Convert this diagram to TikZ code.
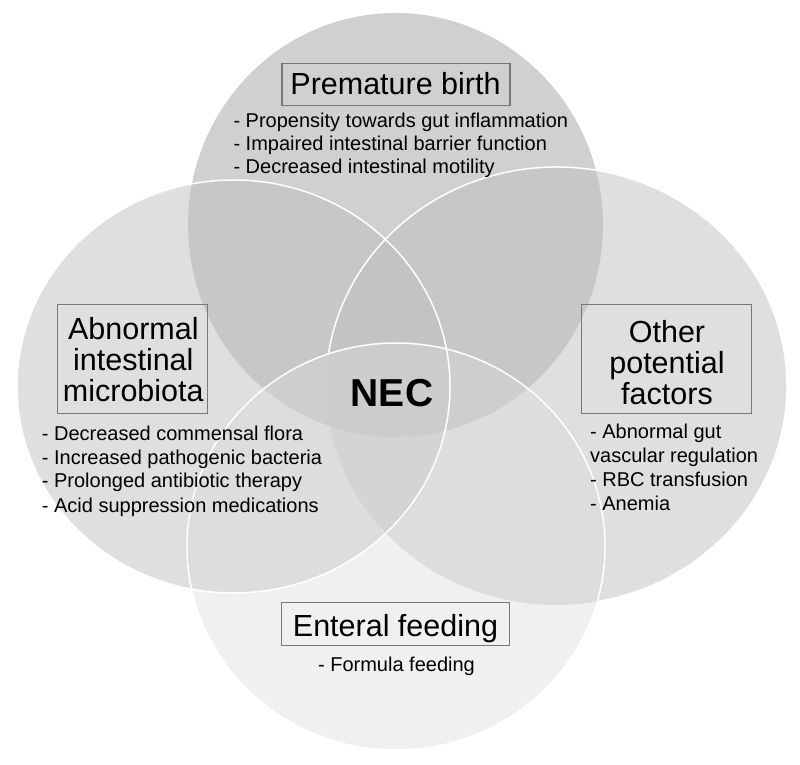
\documentclass[tikz,border=0pt]{standalone}
\usepackage{fontspec}
\setmainfont{Liberation Sans}
\definecolor{topfill}{gray}{0.816}
\definecolor{sidefill}{gray}{0.753}
\definecolor{botfill}{gray}{0.853}
\definecolor{boxgray}{gray}{0.47}
\newcommand{\cstack}[2]{\vtop{\baselineskip=#1\lineskiplimit=-100pt\lineskip=0pt\halign{\hfil##\hfil\cr#2\crcr}}}
\newcommand{\lstack}[2]{\vtop{\baselineskip=#1\lineskiplimit=-100pt\lineskip=0pt\halign{##\hfil\cr#2\crcr}}}
\begin{document}
\begin{tikzpicture}[x=1pt,y=1pt,
  outline/.style={draw=white, line width=1.5pt},
  box/.style={draw=boxgray, line width=1.2pt, inner sep=0pt, fill=none},
  title/.style={font=\fontsize{30.5}{31}\selectfont, inner sep=0pt, text=black},
  items/.style={font=\fontsize{20}{23}\selectfont, inner sep=0pt, text=black},
  nec/.style={font=\fontsize{39}{40}\selectfont\bfseries, inner sep=0pt, text=black}]
\useasboundingbox (0,0) rectangle (800,764);
% circles (fills)
\fill[topfill] (395.5,539) ellipse [x radius=207.5pt, y radius=212pt];
\fill[sidefill, fill opacity=0.5] (233.5,377.5) ellipse [x radius=216.5pt, y radius=206.5pt];
\fill[sidefill, fill opacity=0.5] (556.5,378) ellipse [x radius=230.5pt, y radius=219pt];
\fill[botfill, fill opacity=0.4] (396,217.5) ellipse [x radius=209pt, y radius=203.5pt];
% outlines
\draw[outline] (233.5,377.5) ellipse [x radius=216.5pt, y radius=206.5pt];
\draw[outline] (556.5,378) ++(-79.8:230.5pt and 219pt) arc [start angle=-79.8, end angle=171.5, x radius=230.5pt, y radius=219pt];
\draw[outline] (396,217.5) ellipse [x radius=209pt, y radius=203.5pt];
% boxes
\node[box, minimum width=228pt, minimum height=42.4pt] (pbox) at (396,679.5) {};
\node[box, minimum width=150pt, minimum height=109pt] (lbox) at (132.7,405.3) {};
\node[box, minimum width=170pt, minimum height=109pt] (rbox) at (666.7,405.2) {};
\node[box, minimum width=227.6pt, minimum height=42.6pt] (ebox) at (395.5,140) {};
% titles
\node[title, anchor=base] (ptitle) at (395.5,669) {Premature birth};
\node[title, anchor=base] (ltitle) at (133.3,424.7) {\cstack{31pt}{Abnormal\cr intestinal\cr microbiota}};
\node[title, anchor=base] (rtitle) at (667,421.3) {\cstack{31pt}{Other\cr potential\cr factors}};
\node[title, anchor=base] (etitle) at (395.5,127.3) {Enteral feeding};
\node[nec, anchor=base] (nec) at (392,357.3) {NEC};
% item lists
\node[items, anchor=base west] (plist) at (233.3,636) {\lstack{23pt}{- Propensity towards gut inflammation\cr - Impaired intestinal barrier function\cr - Decreased intestinal motility}};
\node[items, anchor=base west] (llist) at (41.7,324) {\lstack{24pt}{- Decreased commensal flora\cr - Increased pathogenic bacteria\cr - Prolonged antibiotic therapy\cr - Acid suppression medications}};
\node[items, anchor=base west] (rlist) at (590,326) {\lstack{24pt}{- Abnormal gut\cr vascular regulation\cr - RBC transfusion\cr - Anemia}};
\node[items, anchor=base] (elist) at (396.5,93) {- Formula feeding};
\end{tikzpicture}
\end{document}
